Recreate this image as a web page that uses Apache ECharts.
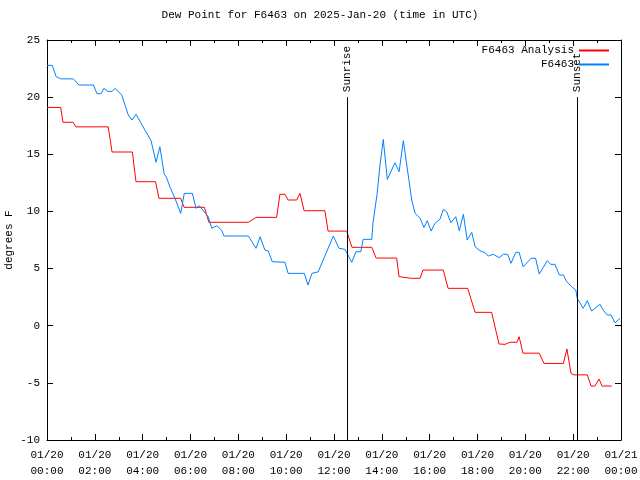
<!DOCTYPE html>
<html>
<head>
<meta charset="utf-8">
<script src="https://cdn.jsdelivr.net/npm/echarts@6/dist/echarts.min.js"></script>
<style>html,body{margin:0;padding:0;background:#fff}#c{width:640px;height:480px}</style>
</head>
<body>
<div id="c"></div>
<script>
const titleText = 'Dew Point for F6463 on 2025-Jan-20 (time in UTC)';
const seriesNames = ['F6463 Analysis', 'F6463'];
const yTicks = { min: -10, max: 25, interval: 5 };
const xTicks = { min: 0, max: 24, interval: 2 };

const redHours = [0.00,0.57,0.67,1.09,1.21,2.56,2.72,3.57,3.72,4.54,4.68,5.59,5.73,6.58,6.77,8.42,8.74,9.60,9.74,9.95,10.08,10.44,10.58,10.75,11.62,11.75,12.53,12.75,13.58,13.76,14.62,14.72,15.22,15.60,15.72,16.57,16.77,17.59,17.90,18.59,18.90,19.15,19.36,19.65,19.74,19.90,20.58,20.78,21.59,21.74,21.91,22.03,22.59,22.75,22.91,23.08,23.21,23.61];
const redValues = [19.1,19.1,17.8,17.8,17.4,17.4,15.2,15.2,12.6,12.6,11.15,11.15,10.36,10.36,9.05,9.05,9.48,9.48,11.5,11.5,11.0,11.0,11.58,10.06,10.06,8.28,8.28,6.86,6.86,5.92,5.92,4.29,4.15,4.15,4.87,4.87,3.27,3.27,1.17,1.17,-1.6,-1.63,-1.45,-1.45,-0.96,-2.4,-2.4,-3.3,-3.3,-2.04,-4.17,-4.3,-4.3,-5.28,-5.28,-4.66,-5.28,-5.28];

const blueHours = [0.00,0.22,0.38,0.57,1.10,1.34,1.94,2.09,2.26,2.38,2.55,2.72,2.84,3.12,3.40,3.55,3.72,4.10,4.35,4.56,4.72,4.90,4.98,5.17,5.35,5.59,5.74,6.08,6.23,6.37,6.74,6.89,7.10,7.30,7.40,8.42,8.74,8.91,9.11,9.25,9.42,9.95,10.08,10.76,10.91,11.08,11.34,11.97,12.04,12.21,12.46,12.74,12.92,13.12,13.22,13.58,13.63,13.80,13.92,14.06,14.23,14.55,14.72,14.90,15.25,15.39,15.60,15.76,15.90,16.06,16.22,16.43,16.57,16.71,16.89,17.09,17.24,17.41,17.57,17.76,17.90,18.10,18.31,18.45,18.66,18.90,19.08,19.26,19.40,19.60,19.74,19.91,20.24,20.43,20.58,20.92,21.06,21.24,21.42,21.59,21.73,21.94,22.11,22.17,22.42,22.59,22.77,23.12,23.27,23.42,23.58,23.75,23.96];
const blueValues = [22.78,22.78,21.8,21.6,21.6,21.06,21.06,20.3,20.3,20.77,20.5,20.5,20.77,20.2,18.43,18.0,18.5,17.1,16.2,14.3,15.66,13.27,13.05,12.0,11.15,9.83,11.58,11.58,10.27,10.5,9.54,8.52,8.75,8.37,7.85,7.85,6.77,7.79,6.62,6.54,5.6,5.55,4.58,4.58,3.56,4.58,4.72,7.85,7.85,6.77,6.68,5.55,6.47,6.47,7.56,7.56,9.0,11.5,14.0,16.3,12.8,14.26,13.47,16.19,11.0,9.83,9.4,8.6,9.19,8.28,8.96,9.31,10.18,9.97,9.01,9.54,8.31,9.75,7.5,8.17,6.91,6.56,6.39,6.1,6.25,5.95,6.25,6.25,5.46,6.42,6.42,5.16,5.9,5.9,4.52,5.69,5.37,5.37,4.44,4.44,3.85,3.41,3.12,2.4,1.52,2.19,1.29,1.87,1.31,0.94,0.94,0.26,0.65];

const sunEvents = [
  { name: 'Sunrise', hour: 12.54 },
  { name: 'Sunset', hour: 22.16 }
];
const sunLineRange = [-10, 20];

const FONT = '"Liberation Mono", "DejaVu Sans Mono", monospace';
const zip = (a, b) => a.map((v, i) => [v, b[i]]);
const pad = n => (n < 10 ? '0' : '') + n;

const chart = echarts.init(document.getElementById('c'), null, { renderer: 'canvas' });

function tickCfg(len) {
  return { show: true, inside: true, length: len, lineStyle: { color: '#000', width: 1 } };
}
function minorCfg(len) {
  return { show: true, splitNumber: 2, length: len, lineStyle: { color: '#000', width: 1 } };
}
const axisLineCfg = { show: true, onZero: false, lineStyle: { color: '#000', width: 1 } };

chart.setOption({
  animation: false,
  backgroundColor: '#fff',
  title: {
    text: titleText, left: 'center', top: 10, padding: 0,
    textStyle: { fontFamily: FONT, fontSize: 11, fontWeight: 'normal', color: '#000' }
  },
  legend: {
    orient: 'vertical', align: 'right', right: 30, top: 45, padding: 0,
    itemWidth: 30, itemHeight: 11, itemGap: 3,
    itemStyle: { opacity: 0 },
    textStyle: { fontFamily: FONT, fontSize: 11, color: '#000' },
    data: seriesNames
  },
  grid: { left: 47, right: 19, top: 40, bottom: 40, containLabel: false, outerBoundsMode: 'none' },
  xAxis: [
    {
      type: 'value', min: xTicks.min, max: xTicks.max, interval: xTicks.interval, position: 'bottom',
      axisLine: axisLineCfg, splitLine: { show: false },
      axisTick: tickCfg(6), minorTick: minorCfg(3),
      axisLabel: {
        fontFamily: FONT, fontSize: 11, color: '#000', margin: 7, lineHeight: 16,
        formatter: v => v >= 24 ? '01/21\n00:00' : '01/20\n' + pad(v) + ':00'
      }
    },
    {
      type: 'value', min: xTicks.min, max: xTicks.max, interval: xTicks.interval, position: 'top',
      axisLine: axisLineCfg, splitLine: { show: false },
      axisTick: tickCfg(6), minorTick: minorCfg(3),
      axisLabel: { show: false }
    }
  ],
  yAxis: [
    {
      type: 'value', min: yTicks.min, max: yTicks.max, interval: yTicks.interval, position: 'left',
      axisLine: axisLineCfg, splitLine: { show: false },
      name: 'degrees F', nameLocation: 'middle', nameGap: 32, nameMoveOverlap: false,
      nameTextStyle: { fontFamily: FONT, fontSize: 11, color: '#000' },
      axisTick: tickCfg(6),
      axisLabel: { fontFamily: FONT, fontSize: 11, color: '#000', margin: 7 }
    },
    {
      type: 'value', min: yTicks.min, max: yTicks.max, interval: yTicks.interval, position: 'right',
      axisLine: axisLineCfg, splitLine: { show: false },
      axisTick: tickCfg(6),
      axisLabel: { show: false }
    }
  ],
  series: [
    {
      name: seriesNames[0], type: 'line', data: zip(redHours, redValues),
      symbol: 'none', lineStyle: { color: '#ff0000', width: 1 }, itemStyle: { color: '#ff0000' }
    },
    {
      name: seriesNames[1], type: 'line', data: zip(blueHours, blueValues),
      symbol: 'none', lineStyle: { color: '#0080ff', width: 1 }, itemStyle: { color: '#0080ff' },
      markLine: {
        silent: true, symbol: 'none', label: { show: false },
        lineStyle: { color: '#000', width: 1, type: 'solid' },
        data: sunEvents.map(e => [{ coord: [e.hour, sunLineRange[0]] }, { coord: [e.hour, sunLineRange[1]] }])
      }
    }
  ]
});

const labels = sunEvents.map(e => {
  const p = chart.convertToPixel({ xAxisIndex: 0, yAxisIndex: 0 }, [e.hour, sunLineRange[1]]);
  return {
    type: 'text', x: Math.round(p[0]) - 5, y: p[1] - 5, rotation: Math.PI / 2, silent: true,
    style: { text: e.name, font: '11px ' + FONT, fill: '#000', align: 'left', verticalAlign: 'top' }
  };
});
chart.setOption({ graphic: labels });
</script>
</body>
</html>
